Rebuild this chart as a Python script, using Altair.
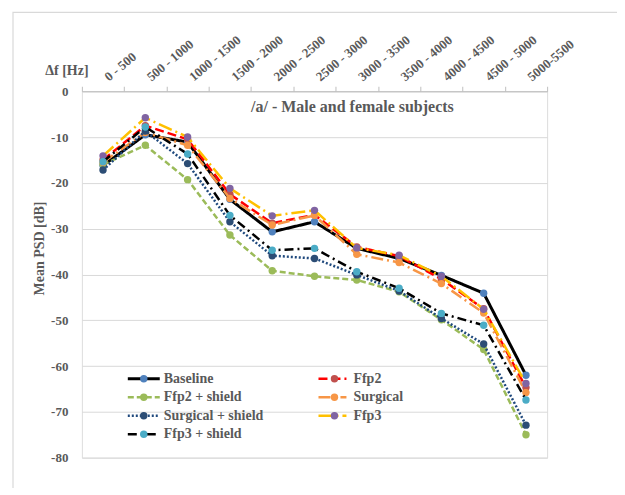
import altair as alt
import pandas as pd

x_labels = ["0 - 500", "500 - 1000", "1000 - 1500", "1500 - 2000", "2000 - 2500",
            "2500 - 3000", "3000 - 3500", "3500 - 4000", "4000 - 4500", "4500 - 5000",
            "5000-5500"]

series_names = ["Baseline", "Ffp2", "Ffp2 + shield", "Surgical", "Surgical + shield",
                "Ffp3", "Ffp3 + shield"]

baseline = [-16.2, -9.5, -11.1, -23.6, -30.7, -28.5, -34.3, -36.5, -40.2, -44.1, -62.0]
ffp2 = [-15.0, -7.5, -10.5, -22.5, -28.8, -27.0, -34.0, -36.0, -41.0, -47.5, -64.7]
ffp2_shield = [-16.0, -11.8, -19.3, -31.4, -39.2, -40.4, -41.2, -43.8, -49.9, -56.4, -75.0]
surgical = [-15.5, -9.0, -11.8, -23.4, -29.2, -27.1, -35.6, -37.4, -42.0, -48.4, -65.8]
surgical_shield = [-17.2, -8.7, -15.8, -28.5, -35.9, -36.5, -40.1, -43.6, -49.6, -55.2, -72.9]
ffp3 = [-14.1, -5.8, -10.0, -21.2, -27.2, -26.0, -34.2, -35.8, -40.4, -47.6, -63.8]
ffp3_shield = [-15.4, -7.8, -13.7, -27.1, -34.7, -34.3, -39.4, -43.0, -48.5, -51.1, -67.4]

series_values = [baseline, ffp2, ffp2_shield, surgical, surgical_shield, ffp3, ffp3_shield]

line_colors = ["#000000", "#FF0000", "#9BBB59", "#F79646", "#1F497D", "#FFC000", "#000000"]
marker_colors = ["#4F81BD", "#C0504D", "#9BBB59", "#F79646", "#2C4D75", "#8064A2", "#4BACC6"]
dashes = [[1, 0], [9, 4], [6, 3], [12, 4, 2, 4], [2, 2], [14, 4, 2, 4], [9, 4, 2, 4]]
widths = [3, 2.5, 2.5, 2.5, 2.5, 2.5, 2.5]

FONT = "Liberation Serif"
GRAY = "#595959"

W, H = 466, 367

xenc = alt.X("cat:N", sort=x_labels,
             scale=alt.Scale(type="band", paddingInner=0, paddingOuter=0, domain=x_labels),
             bandPosition=0.5,
             axis=alt.Axis(orient="top", title=None, tickBand="extent", labelAngle=320,
                           labelAlign="left", labelBaseline="middle", labelPadding=8,
                           labelOffset=3,
                           labelFont=FONT, labelFontWeight="bold", labelFontSize=13,
                           labelColor=GRAY, domainColor="#BFBFBF", tickColor="#BFBFBF",
                           tickSize=5, grid=False, labelOverlap=False))
yenc = alt.Y("val:Q", scale=alt.Scale(domain=[-80, 0], nice=False),
             axis=alt.Axis(values=list(range(0, -90, -10)), title="Mean PSD [dB]",
                           labelExpr="toString(datum.value)",
                           titleFont=FONT, titleFontWeight="bold", titleFontSize=14,
                           titleColor=GRAY, titleAngle=270, titleX=-42, titleY=157,
                           titleAlign="center", titleBaseline="middle",
                           labelFont=FONT, labelFontWeight="bold", labelFontSize=13,
                           labelColor=GRAY, labelPadding=14, domain=False, ticks=False,
                           grid=True, gridColor="#D9D9D9", gridWidth=1))

layers = []

# outer frame
frame = alt.Chart(pd.DataFrame({"a": [0]})).mark_rect(
    fillOpacity=0, stroke="#D9D9D9", strokeWidth=1.2).encode(
    x=alt.value(-69), x2=alt.value(539), y=alt.value(-79), y2=alt.value(430))
layers.append(frame)

for i, name in enumerate(series_names):
    df = pd.DataFrame({"cat": x_labels, "val": series_values[i], "s": name})
    base = alt.Chart(df)
    ln = base.mark_line(color=line_colors[i], strokeDash=dashes[i], strokeWidth=widths[i]).encode(
        x=xenc, y=yenc)
    pt = base.mark_circle(color=marker_colors[i], opacity=1, size=55).encode(x=xenc, y=yenc)
    layers += [ln, pt]

# texts
t1 = alt.Chart(pd.DataFrame({"t": ["/a/ - Male and female subjects"]})).mark_text(
    font=FONT, fontWeight="bold", fontSize=16, color=GRAY, align="center", baseline="middle").encode(
    text="t:N", x=alt.value(271), y=alt.value(16))
t2 = alt.Chart(pd.DataFrame({"t": ["\u0394f [Hz]"]})).mark_text(
    font=FONT, fontWeight="bold", fontSize=14, color=GRAY, align="center", baseline="middle").encode(
    text="t:N", x=alt.value(-15), y=alt.value(-20))
layers += [t1, t2]

# legend
col_line = [(46, 78, 62, 82), (237, 265, 253, 272)]
row_y = [288, 306.5, 325, 343.5]
for i, name in enumerate(series_names):
    r, c = i // 2, i % 2
    x1, x2, xd, xt = col_line[c]
    y = row_y[r]
    d = pd.DataFrame({"t": [name]})
    lg = alt.Chart(d).mark_rule(color=line_colors[i], strokeDash=dashes[i], strokeWidth=widths[i]).encode(
        x=alt.value(x1), x2=alt.value(x2), y=alt.value(y))
    lp = alt.Chart(d).mark_circle(color=marker_colors[i], opacity=1, size=55).encode(
        x=alt.value(xd), y=alt.value(y))
    lt = alt.Chart(d).mark_text(font=FONT, fontWeight="bold", fontSize=14, color=GRAY,
                                align="left", baseline="middle").encode(
        text="t:N", x=alt.value(xt), y=alt.value(y))
    layers += [lg, lp, lt]

chart = alt.layer(*layers).properties(
    width=W, height=H,
    autosize=alt.AutoSizeParams(type="none"),
    padding={"left": 74, "top": 83, "right": 70, "bottom": 30},
).configure_view(stroke=None).configure(background="white")

chart.save("out.html", embed_options={"renderer": "svg", "actions": False})
